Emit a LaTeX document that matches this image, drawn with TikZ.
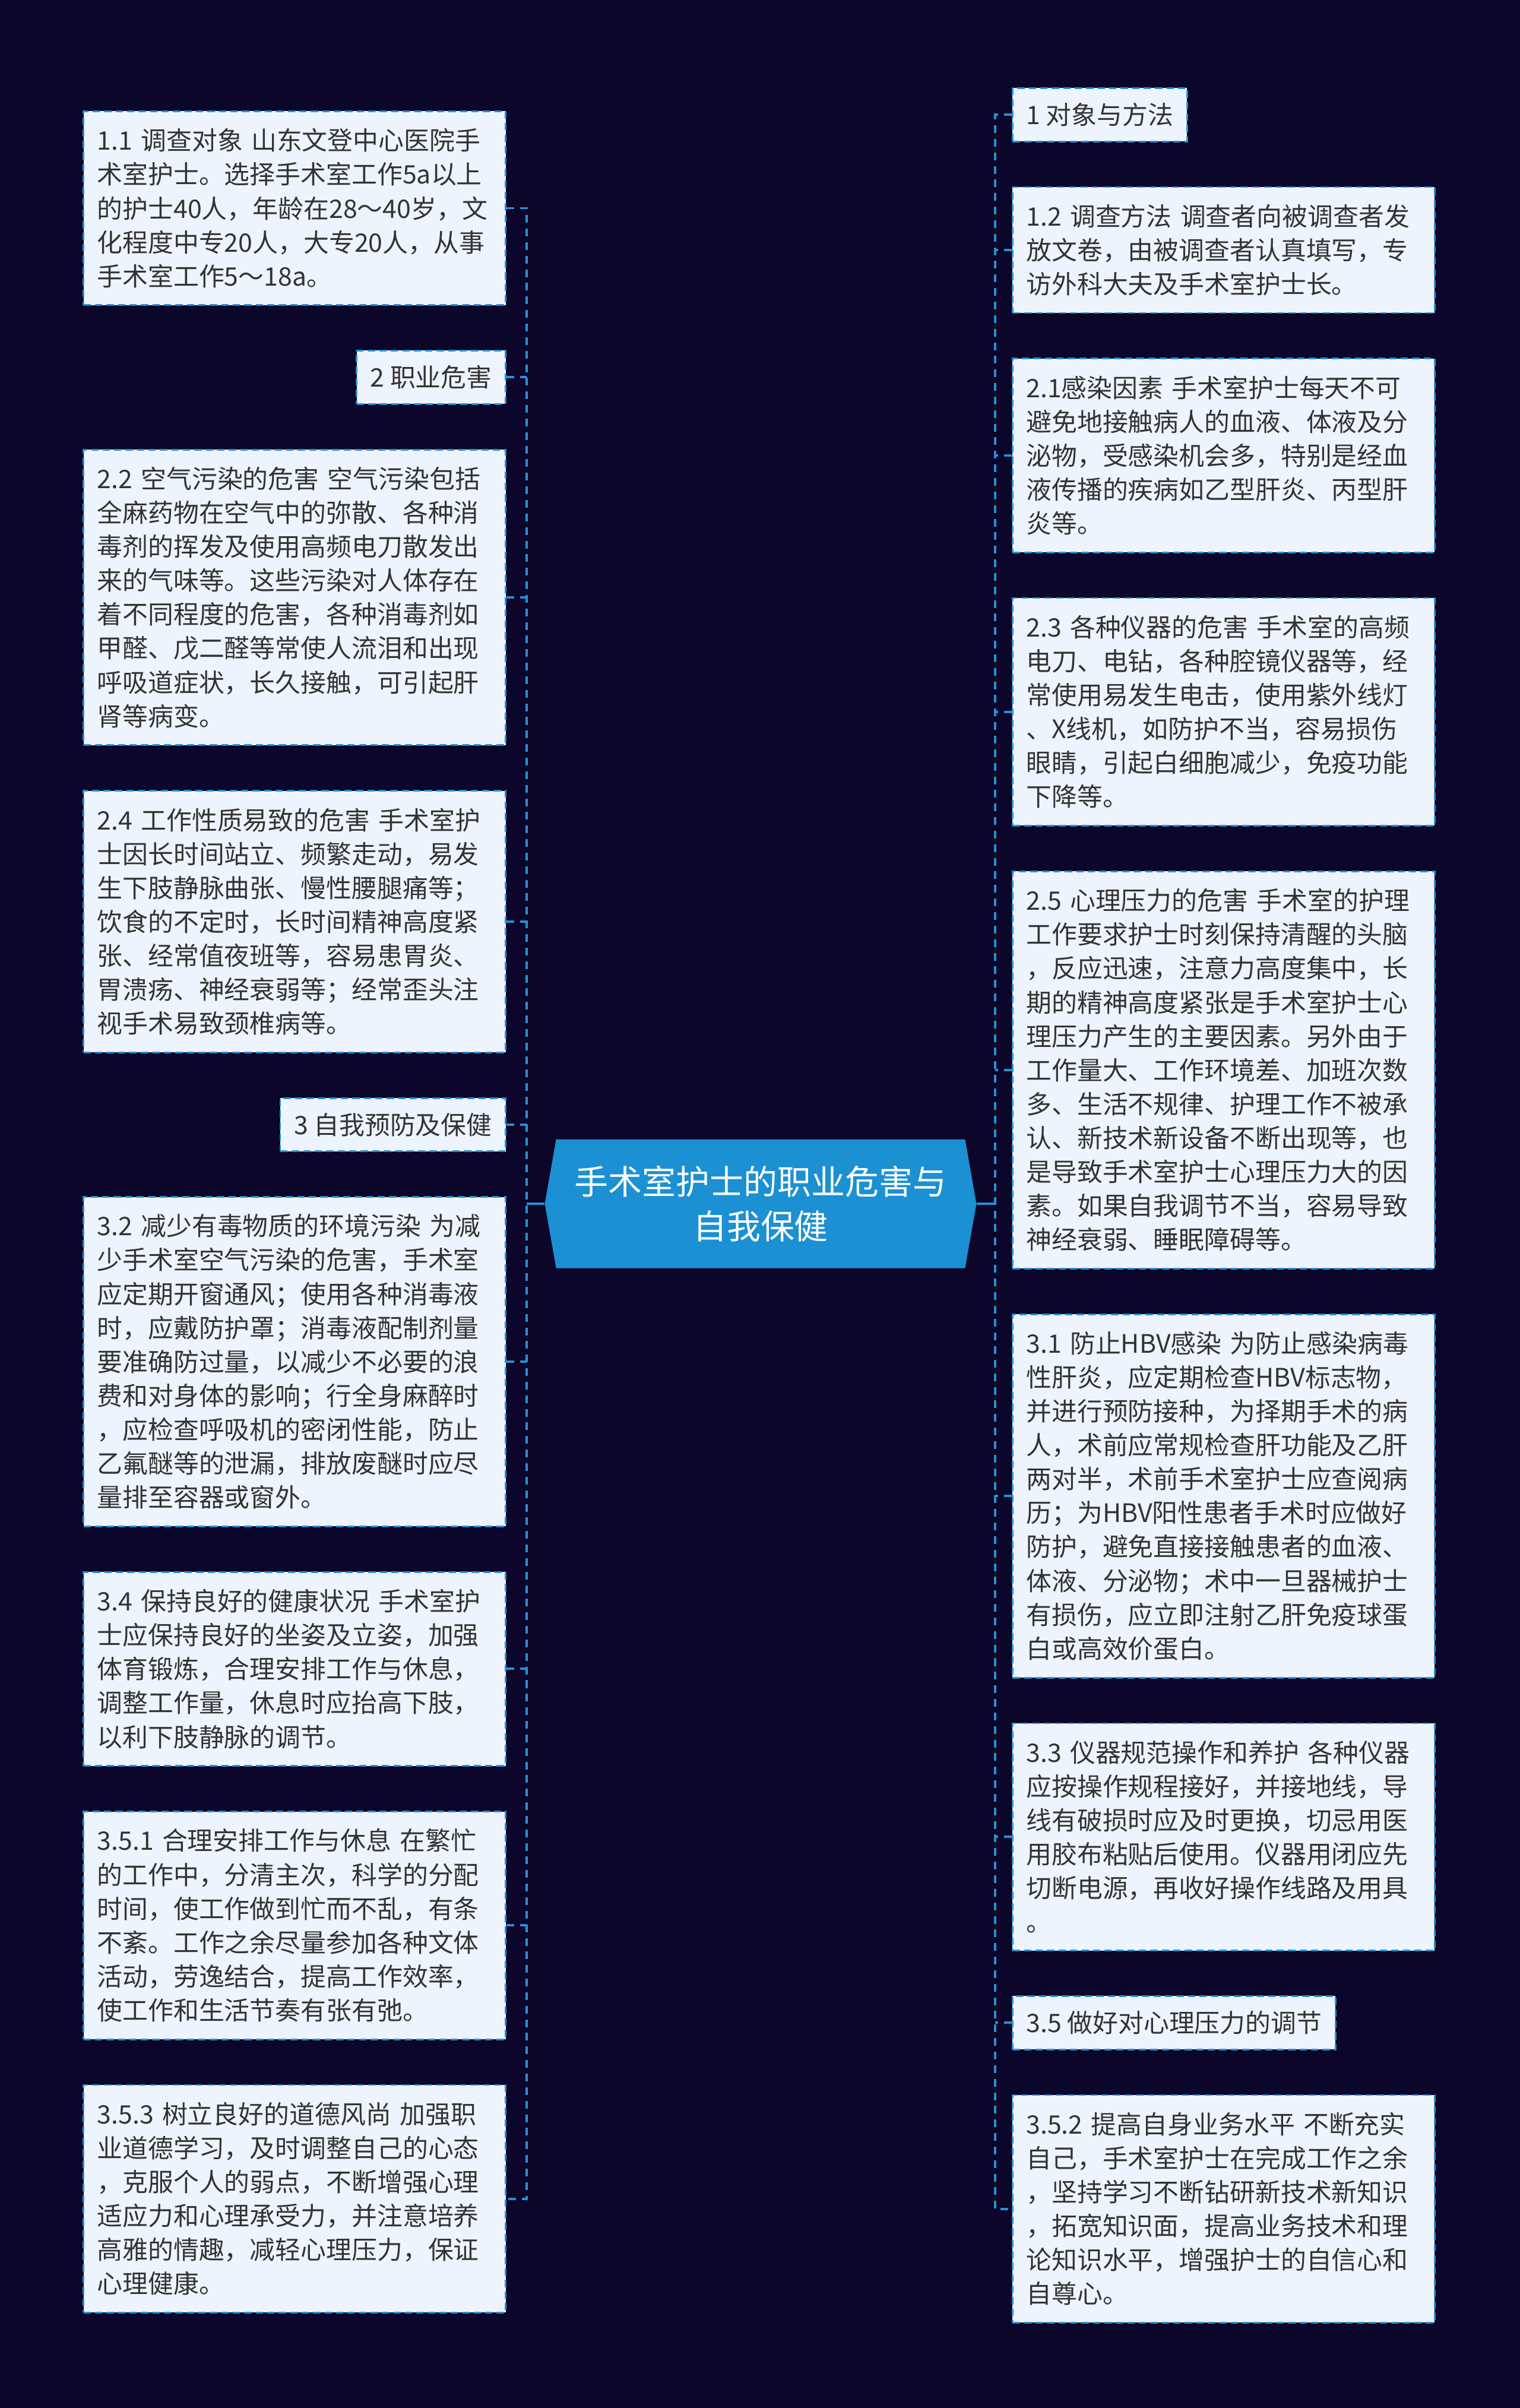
\documentclass[tikz,border=0pt]{standalone}
\usepackage{fontspec}
\setmainfont{Noto Sans CJK SC}
\usetikzlibrary{positioning, shapes.symbols}

\definecolor{bgnavy}{RGB}{11,6,42}
\definecolor{linkblue}{RGB}{38,145,214}
\definecolor{rootblue}{RGB}{27,144,210}
\definecolor{leaffill}{RGB}{238,244,253}
\definecolor{leaftext}{RGB}{51,51,51}

\begin{document}
\begin{tikzpicture}[
    leaf/.style={draw=linkblue, fill=leaffill, line width=0.8pt,
        dash pattern=on 3.5pt off 2pt, text=leaftext,
        font=\fontsize{12.2pt}{16.25pt}\selectfont,
        inner xsep=0.23cm, inner ysep=0.29cm},
    tag/.style={leaf, inner ysep=0.25cm},        % 一行だけの見出し
    para/.style={leaf, text width=6.65cm, align=left},
    root/.style={signal, signal to=east and west, signal pointer angle=160,
        fill=rootblue, text=white, font=\fontsize{16.2pt}{21.5pt}\selectfont,
        align=center, minimum width=7.27cm, minimum height=2.17cm},
    link/.style={draw=linkblue, line width=1.1pt, dash pattern=on 3.7pt off 2.8pt},
    trunk/.style={draw=linkblue, line width=1.1pt},
    node distance=0.74cm
]

    % --- 背景 ---
    \fill[bgnavy] (0,0) rectangle (25.6,-40.55);
    \useasboundingbox (0,0) rectangle (25.6,-40.55);

    % --- 中心 ---
    \node[root] (root) at (12.81,-20.27) {手术室护士的职业危害与\\自我保健};

    % --- 左側 ---
    \node[para, anchor=north east] (l11) at (8.53,-1.86)
        {1.1~调查对象~山东文登中心医院手\\术室护士。选择手术室工作5a以上\\的护士40人，年龄在28～40岁，文\\化程度中专20人，大专20人，从事\\手术室工作5～18a。};
    \node[tag, below=of l11.south east, anchor=north east] (l2) {2 职业危害};
    \node[para, below=of l2.south east, anchor=north east] (l22)
        {2.2~空气污染的危害~空气污染包括\\全麻药物在空气中的弥散、各种消\\毒剂的挥发及使用高频电刀散发出\\来的气味等。这些污染对人体存在\\着不同程度的危害，各种消毒剂如\\甲醛、戊二醛等常使人流泪和出现\\呼吸道症状，长久接触，可引起肝\\肾等病变。};
    \node[para, below=of l22.south east, anchor=north east] (l24)
        {2.4~工作性质易致的危害~手术室护\\士因长时间站立、频繁走动，易发\\生下肢静脉曲张、慢性腰腿痛等；\\饮食的不定时，长时间精神高度紧\\张、经常值夜班等，容易患胃炎、\\胃溃疡、神经衰弱等；经常歪头注\\视手术易致颈椎病等。};
    \node[tag, below=of l24.south east, anchor=north east] (l3) {3 自我预防及保健};
    \node[para, below=of l3.south east, anchor=north east] (l32)
        {3.2~减少有毒物质的环境污染~为减\\少手术室空气污染的危害，手术室\\应定期开窗通风；使用各种消毒液\\时，应戴防护罩；消毒液配制剂量\\要准确防过量，以减少不必要的浪\\费和对身体的影响；行全身麻醉时\\，应检查呼吸机的密闭性能，防止\\乙氟醚等的泄漏，排放废醚时应尽\\量排至容器或窗外。};
    \node[para, below=of l32.south east, anchor=north east] (l34)
        {3.4~保持良好的健康状况~手术室护\\士应保持良好的坐姿及立姿，加强\\体育锻炼，合理安排工作与休息，\\调整工作量，休息时应抬高下肢，\\以利下肢静脉的调节。};
    \node[para, below=of l34.south east, anchor=north east] (l351)
        {3.5.1~合理安排工作与休息~在繁忙\\的工作中，分清主次，科学的分配\\时间，使工作做到忙而不乱，有条\\不紊。工作之余尽量参加各种文体\\活动，劳逸结合，提高工作效率，\\使工作和生活节奏有张有弛。};
    \node[para, below=of l351.south east, anchor=north east] (l353)
        {3.5.3~树立良好的道德风尚~加强职\\业道德学习，及时调整自己的心态\\，克服个人的弱点，不断增强心理\\适应力和心理承受力，并注意培养\\高雅的情趣，减轻心理压力，保证\\心理健康。};

    % --- 右側 ---
    \node[tag, anchor=north west] (r1) at (17.04,-1.47) {1 对象与方法};
    \node[para, below=of r1.south west, anchor=north west] (r12)
        {1.2~调查方法~调查者向被调查者发\\放文卷，由被调查者认真填写，专\\访外科大夫及手术室护士长。};
    \node[para, below=of r12.south west, anchor=north west] (r21)
        {2.1感染因素~手术室护士每天不可\\避免地接触病人的血液、体液及分\\泌物，受感染机会多，特别是经血\\液传播的疾病如乙型肝炎、丙型肝\\炎等。};
    \node[para, below=of r21.south west, anchor=north west] (r23)
        {2.3~各种仪器的危害~手术室的高频\\电刀、电钻，各种腔镜仪器等，经\\常使用易发生电击，使用紫外线灯\\、X线机，如防护不当，容易损伤\\眼睛，引起白细胞减少，免疫功能\\下降等。};
    \node[para, below=of r23.south west, anchor=north west] (r25)
        {2.5~心理压力的危害~手术室的护理\\工作要求护士时刻保持清醒的头脑\\，反应迅速，注意力高度集中，长\\期的精神高度紧张是手术室护士心\\理压力产生的主要因素。另外由于\\工作量大、工作环境差、加班次数\\多、生活不规律、护理工作不被承\\认、新技术新设备不断出现等，也\\是导致手术室护士心理压力大的因\\素。如果自我调节不当，容易导致\\神经衰弱、睡眠障碍等。};
    \node[para, below=of r25.south west, anchor=north west] (r31)
        {3.1~防止HBV感染~为防止感染病毒\\性肝炎，应定期检查HBV标志物，\\并进行预防接种，为择期手术的病\\人，术前应常规检查肝功能及乙肝\\两对半，术前手术室护士应查阅病\\历；为HBV阳性患者手术时应做好\\防护，避免直接接触患者的血液、\\体液、分泌物；术中一旦器械护士\\有损伤，应立即注射乙肝免疫球蛋\\白或高效价蛋白。};
    \node[para, below=of r31.south west, anchor=north west] (r33)
        {3.3~仪器规范操作和养护~各种仪器\\应按操作规程接好，并接地线，导\\线有破损时应及时更换，切忌用医\\用胶布粘贴后使用。仪器用闭应先\\切断电源，再收好操作线路及用具\\。};
    \node[tag, below=of r33.south west, anchor=north west] (r35) {3.5 做好对心理压力的调节};
    \node[para, below=of r35.south west, anchor=north west] (r352)
        {3.5.2~提高自身业务水平~不断充实\\自己，手术室护士在完成工作之余\\，坚持学习不断钻研新技术新知识\\，拓宽知识面，提高业务技术和理\\论知识水平，增强护士的自信心和\\自尊心。};

    % --- 連結線 ---
    \coordinate (lspine) at (8.87,-20.27);
    \coordinate (rspine) at (16.76,-20.27);
    \draw[link] (l11.east) -- (l11.east -| lspine) -- (l353.east -| lspine) -- (l353.east);
    \foreach \n in {l2,l22,l24,l3,l32,l34,l351}
        \draw[link] (\n.east) -- (\n.east -| lspine);
    \draw[link] (r1.west) -- (r1.west -| rspine) -- (r352.west -| rspine) -- (r352.west);
    \foreach \n in {r12,r21,r23,r25,r31,r33,r35}
        \draw[link] (\n.west) -- (\n.west -| rspine);
    \draw[trunk] (root.west) -- (lspine);
    \draw[trunk] (root.east) -- (rspine);

\end{tikzpicture}
\end{document}
